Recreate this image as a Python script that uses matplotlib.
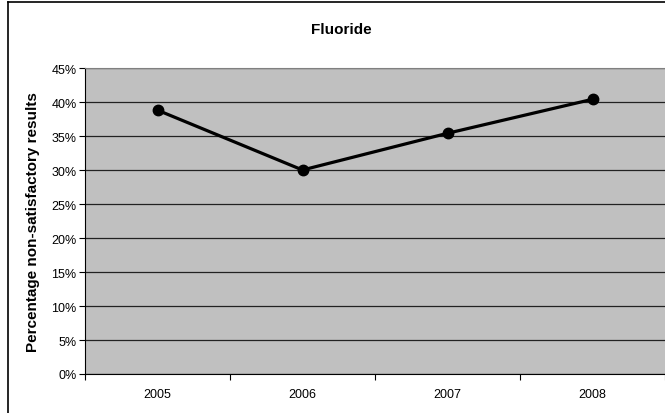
import matplotlib.pyplot as plt
from matplotlib.lines import Line2D
from matplotlib.ticker import FuncFormatter

years = ['2005', '2006', '2007', '2008']
values = [38.8, 30.0, 35.4, 40.4]
y_ticks = [0, 5, 10, 15, 20, 25, 30, 35, 40, 45]

plt.rcParams['font.family'] = ['Liberation Sans', 'DejaVu Sans']

fig = plt.figure(figsize=(6.65, 4.14), dpi=100)
ax = fig.add_axes([85 / 665, 1 - 375 / 414, 1 - 85 / 665, (375 - 69) / 414])

ax.set_facecolor('#C0C0C0')
x = list(range(len(years)))
ax.plot(x, values, color='black', linewidth=2.3, marker='o', markersize=7.5, zorder=3)

ax.set_ylim(0, 45)
ax.set_yticks(y_ticks)
ax.yaxis.set_major_formatter(FuncFormatter(lambda v, p: '%d%%' % v))
ax.grid(axis='y', color='#222222', linewidth=0.9)
ax.set_axisbelow(True)

# ticks between categories, labels at category centres
ax.set_xlim(-0.5, len(years) - 0.5)
ax.set_xticks([i - 0.5 for i in range(len(years) + 1)])
ax.set_xticklabels([])
ax.set_xticks(x, minor=True)
ax.set_xticklabels(years, minor=True)
ax.tick_params(axis='x', which='minor', length=0, pad=10, labelsize=9)
ax.tick_params(axis='x', which='major', length=4, direction='out', color='black')
ax.tick_params(axis='y', length=4, direction='out', labelsize=9, pad=2)

ax.spines['left'].set_color('black')
ax.spines['bottom'].set_color('black')
ax.spines['top'].set_color('#808080')
ax.spines['right'].set_visible(False)

ax.set_ylabel('Percentage non-satisfactory results', fontsize=11, fontweight='bold', labelpad=8)
fig.text(0.513, 1 - 30 / 414, 'Fluoride', ha='center', va='center', fontsize=11, fontweight='bold')

# outer chart border (top and left edges visible in the crop)
fig.add_artist(Line2D([8 / 665, 8 / 665], [0, 1 - 3 / 414], color='black', linewidth=1.2, transform=fig.transFigure))
fig.add_artist(Line2D([8 / 665, 1], [1 - 3 / 414, 1 - 3 / 414], color='black', linewidth=1.2, transform=fig.transFigure))

fig.savefig('out.png', dpi=100)
